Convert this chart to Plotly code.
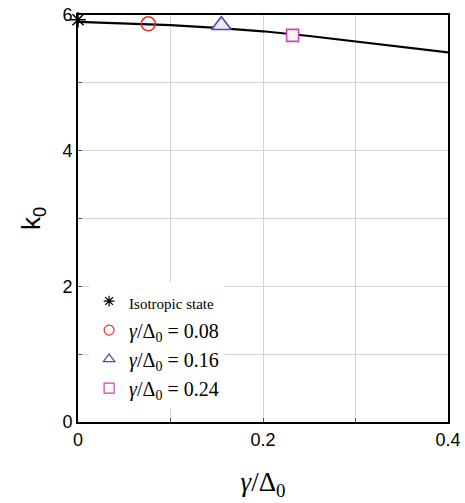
import plotly.graph_objects as go

# curve data
curve_x = [0.0, 0.05, 0.1, 0.15, 0.2, 0.25, 0.3, 0.35, 0.4]
curve_y = [5.90, 5.88, 5.85, 5.81, 5.76, 5.69, 5.61, 5.53, 5.45]

iso_x = [0.0]
iso_y = [5.93]
pts_x = [0.076, 0.155, 0.232]
pts_y = [5.87, 5.85, 5.70]
pt_labels = ["0.08", "0.16", "0.24"]
pt_symbols = ["circle-open", "triangle-up", "square"]
pt_colors = ["#e8302a", "#4a4ab0", "#d040c0"]
pt_fill = ["rgba(0,0,0,0)", "#eeeeee", "#f4f4f4"]
pt_sizes = [14, 17, 12]

x_ticks = [0, 0.1, 0.2, 0.3, 0.4]
x_ticktext = ["0", "", "0.2", "", "0.4"]
y_ticks = [0, 1, 2, 3, 4, 5, 6]
y_ticktext = ["0", "", "2", "", "4", "", "6"]

fig = go.Figure()
fig.add_trace(go.Scatter(x=curve_x, y=curve_y, mode="lines",
                         line=dict(color="black", width=2.2), showlegend=False))
fig.add_trace(go.Scatter(x=iso_x, y=iso_y, mode="markers",
                         marker=dict(symbol="asterisk-open", size=13, color="black",
                                     line=dict(color="black", width=1.5)),
                         showlegend=False, cliponaxis=False))
for i in range(3):
    fig.add_trace(go.Scatter(x=[pts_x[i]], y=[pts_y[i]], mode="markers",
                             marker=dict(symbol=pt_symbols[i], size=pt_sizes[i],
                                         color=pt_fill[i] if i else pt_colors[i],
                                         line=dict(color=pt_colors[i], width=1.6)),
                             showlegend=False, cliponaxis=False))

# legend entries
fig.add_trace(go.Scatter(x=[None], y=[None], mode="markers",
                         name="<span style='font-size:15px'>Isotropic state</span>",
                         marker=dict(symbol="asterisk-open", size=9, color="black",
                                     line=dict(color="black", width=1.2))))
leg_symbols = ["circle-open", "triangle-up-open", "square-open"]
for i in range(3):
    fig.add_trace(go.Scatter(x=[None], y=[None], mode="markers",
                             name="<i>γ</i>/Δ<sub>0</sub> = " + pt_labels[i],
                             marker=dict(symbol=leg_symbols[i], size=10,
                                         color=pt_colors[i],
                                         line=dict(color=pt_colors[i], width=1.2))))

axis_common = dict(showline=True, linecolor="black", linewidth=2, mirror=True,
                   showgrid=True, gridcolor="#d4d4d4", gridwidth=1,
                   ticks="inside", ticklen=4, tickcolor="#555555", tickwidth=1,
                   zeroline=False, automargin=False,
                   tickfont=dict(family="Liberation Sans, Arial", size=18, color="black"))

fig.update_layout(
    width=465, height=503,
    margin=dict(l=78, r=17, t=15, b=81),
    plot_bgcolor="white", paper_bgcolor="white",
    xaxis=dict(range=[0, 0.4], tickvals=x_ticks, ticktext=x_ticktext,
               title=dict(text="<i>γ</i>/Δ<sub>0</sub>",
                          font=dict(family="Liberation Serif, Times New Roman", size=27, color="black"),
                          standoff=24),
               **axis_common),
    yaxis=dict(range=[0, 6], tickvals=y_ticks, ticktext=y_ticktext,
               title=dict(text="k<sub>0</sub>",
                          font=dict(family="Liberation Sans, Arial", size=26, color="black"),
                          standoff=14),
               **axis_common),
    legend=dict(x=0.03, y=0.345, xanchor="left", yanchor="top",
                bgcolor="white", borderwidth=0,
                font=dict(family="Liberation Serif, Times New Roman", size=20, color="black"),
                tracegroupgap=0, itemwidth=30),
)

fig.write_html("out.html")
